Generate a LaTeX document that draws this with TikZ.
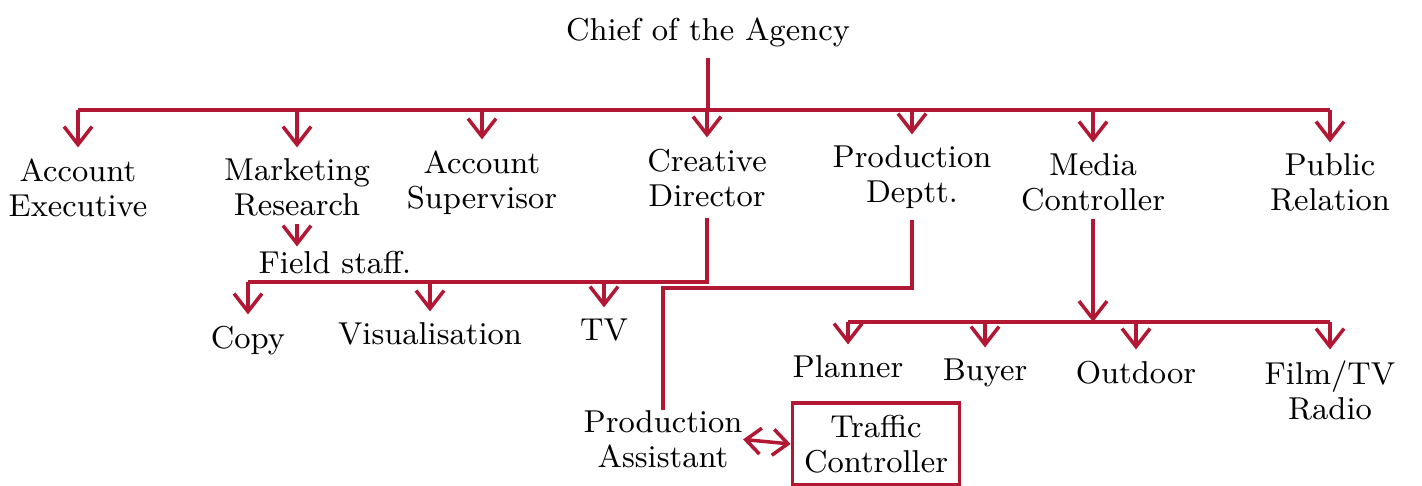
\documentclass[tikz,border=0pt]{standalone}
\usepackage{tikz}
\usetikzlibrary{arrows.meta,positioning,calc}
\definecolor{penred}{RGB}{178,24,52}

\begin{document}
\begin{tikzpicture}[
  x=0.01cm,y=-0.01cm,
  role/.style={font=\fontsize{9}{10}\selectfont, align=center, inner sep=0pt, anchor=north},
  boxed/.style={draw=penred, line width=1pt, minimum width=1.59cm, minimum height=0.79cm, font=\fontsize{9}{10}\selectfont, align=center},
  edge/.style={-{Straight Barb[length=1.8mm,width=2.8mm]}, draw=penred, line width=1pt, shorten >=3pt},
  duo/.style={{Straight Barb[length=1.5mm,width=2.6mm]}-{Straight Barb[length=1.5mm,width=2.6mm]}, draw=penred, line width=1pt},
  wire/.style={draw=penred, line width=1pt}
]
  \useasboundingbox (0,0) rectangle (1422,486);

  \node[role, anchor=center] (chief) at (708,32) {Chief of the Agency};
  \node[role] (ae) at (78,158) {Account\\Executive};
  \node[role] (mr) at (297,158) {Marketing\\Research};
  \node[role] (fs) at (335,250) {Field staff.};
  \node[role] (as) at (482,150) {Account\\Supervisor};
  \node[role] (cd) at (707,148) {Creative\\Director};
  \node[role] (pd) at (912,145) {Production\\Deptt.};
  \node[role] (mc) at (1093,153) {Media\\Controller};
  \node[role] (pr) at (1330,153) {Public\\Relation};

  \node[role] (copy) at (248,325) {Copy};
  \node[role] (vis) at (430,322) {Visualisation};
  \node[role] (tv) at (604,318) {TV};

  \node[role] (pl) at (848,355) {Planner};
  \node[role] (by) at (985,358) {Buyer};
  \node[role] (od) at (1136,360) {Outdoor};
  \node[role] (film) at (1330,360) {Film/TV\\Radio};

  \node[role] (pa) at (663,410) {Production\\Assistant};
  \node[boxed] (tc) at (876,444) {Traffic\\Controller};

  \coordinate (top) at (708,110);
  \coordinate (cbus) at (707,282);
  \coordinate (pbus) at (912,288);
  \coordinate (mbus) at (1093,322);

  \draw[wire, shorten <=3pt] (chief.south) -- (chief.south |- top);
  \draw[wire] (ae |- top) -- (pr |- top);
  \foreach \n in {ae,mr,as,cd,pd,mc,pr}
    \draw[edge] (\n |- top) -- (\n.north);
  \draw[edge, shorten <=2pt, shorten >=1pt] (mr.south) -- (mr.south |- fs.north);

  \draw[wire, shorten <=3pt] (cd.south) -- (cbus) -- (copy |- cbus);
  \foreach \n in {copy,vis,tv}
    \draw[edge] (\n |- cbus) -- (\n.north);

  \draw[wire, shorten <=3pt] (pd.south) -- (pbus) -- (pa.north |- pbus) -- (pa.north);
  \draw[duo] (pa.east) -- (tc.west);

  \draw[edge, shorten <=2pt, shorten >=0pt] (mc.south) -- (mbus);
  \draw[wire] (pl |- mbus) -- (film |- mbus);
  \foreach \n in {pl,by,od,film}
    \draw[edge] (\n |- mbus) -- (\n.north);
\end{tikzpicture}
\end{document}
